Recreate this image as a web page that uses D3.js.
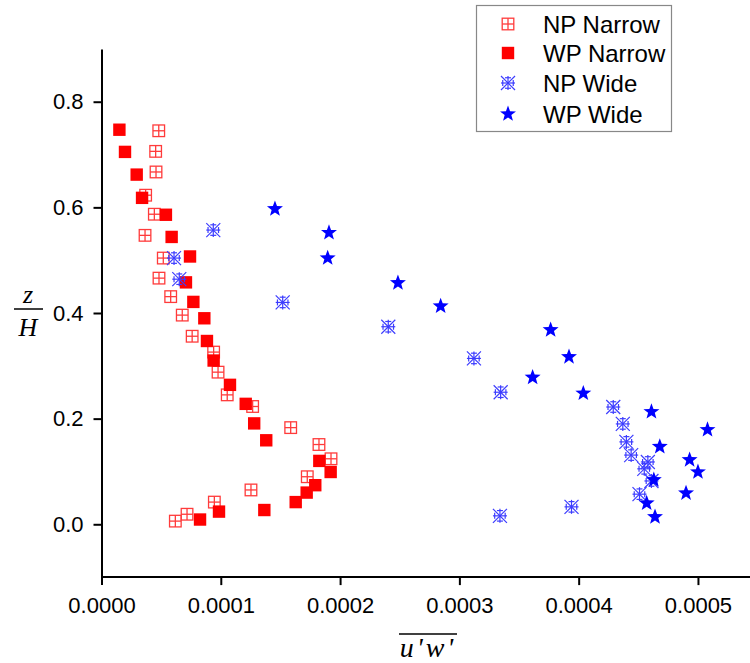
<!DOCTYPE html>
<html>
<head>
<meta charset="utf-8">
<script src="https://cdn.jsdelivr.net/npm/d3@7"></script>
<style>
  html, body { margin: 0; padding: 0; background: #fff; }
  svg { display: block; }
</style>
</head>
<body>
<svg id="chart" width="750" height="663"></svg>
<script>
// ---- data (x = u'w', y = z/H) ----
const seriesNames = ["NP Narrow", "WP Narrow", "NP Wide", "WP Wide"];
const xTicks = [0, 0.0001, 0.0002, 0.0003, 0.0004, 0.0005];
const yTicks = [0.0, 0.2, 0.4, 0.6, 0.8];

const npNarrow = [
  [0.0000480, 0.745], [0.0000454, 0.706], [0.0000457, 0.667], [0.0000370, 0.623],
  [0.0000443, 0.587], [0.0000365, 0.547], [0.0000518, 0.504], [0.0000482, 0.466],
  [0.0000580, 0.431], [0.0000677, 0.396], [0.0000760, 0.356], [0.0000940, 0.326],
  [0.0000977, 0.288], [0.0001054, 0.245], [0.0001267, 0.223], [0.0001586, 0.183],
  [0.0001823, 0.151], [0.0001924, 0.124], [0.0001725, 0.090], [0.0001253, 0.065],
  [0.0000946, 0.042], [0.0000717, 0.019], [0.0000619, 0.006]
];
const wpNarrow = [
  [0.0000150, 0.747], [0.0000197, 0.705], [0.0000295, 0.662], [0.0000340, 0.618],
  [0.0000540, 0.586], [0.0000588, 0.544], [0.0000742, 0.507], [0.0000708, 0.458],
  [0.0000770, 0.421], [0.0000862, 0.390], [0.0000884, 0.347], [0.0000940, 0.310],
  [0.0001077, 0.264], [0.0001209, 0.228], [0.0001280, 0.191], [0.0001381, 0.159],
  [0.0001826, 0.120], [0.0001921, 0.099], [0.0001792, 0.074], [0.0001720, 0.060],
  [0.0001628, 0.042], [0.0001365, 0.027], [0.0000985, 0.024], [0.0000826, 0.009]
];
const npWide = [
  [0.0000937, 0.557], [0.0000608, 0.504], [0.0000652, 0.464], [0.0001519, 0.420],
  [0.0002404, 0.374], [0.0003122, 0.314], [0.0003346, 0.250], [0.0004290, 0.222],
  [0.0004370, 0.190], [0.0004400, 0.156], [0.0004440, 0.131], [0.0004580, 0.118],
  [0.0004550, 0.105], [0.0004610, 0.082], [0.0004510, 0.057], [0.0003940, 0.033],
  [0.0003340, 0.016]
];
const wpWide = [
  [0.0001454, 0.597], [0.0001907, 0.552], [0.0001896, 0.504], [0.0002485, 0.457],
  [0.0002843, 0.413], [0.0003765, 0.368], [0.0003919, 0.317], [0.0003614, 0.278],
  [0.0004039, 0.248], [0.0004610, 0.213], [0.0005080, 0.179], [0.0004680, 0.147],
  [0.0004930, 0.122], [0.0005000, 0.099], [0.0004630, 0.084], [0.0004900, 0.059],
  [0.0004570, 0.040], [0.0004640, 0.014]
];

// ---- layout ----
const svg = d3.select("#chart");
const x = d3.scaleLinear().domain([0, 0.00055]).range([101.5, 757.6]);
const y = d3.scaleLinear().domain([-0.1, 0.9]).range([577.1, 48.9]);
const font = "'Liberation Sans', Arial, sans-serif";

// ---- marker drawers ----
const red = "#ff0000", redLight = "#ff3b3b", blue = "#0000ff", blueLight = "#3c3cff";

function drawNPNarrow(g, cx, cy) {
  const h = 5.8;
  g.append("rect").attr("x", cx - h).attr("y", cy - h).attr("width", 2 * h).attr("height", 2 * h)
    .attr("fill", "#fff").attr("fill-opacity", 0).attr("stroke", redLight).attr("stroke-width", 1.3);
  g.append("line").attr("x1", cx - h).attr("x2", cx + h).attr("y1", cy).attr("y2", cy)
    .attr("stroke", redLight).attr("stroke-width", 1.3);
  g.append("line").attr("x1", cx).attr("x2", cx).attr("y1", cy - h).attr("y2", cy + h)
    .attr("stroke", redLight).attr("stroke-width", 1.3);
}
function drawWPNarrow(g, cx, cy) {
  const h = 6.2;
  g.append("rect").attr("x", cx - h).attr("y", cy - h).attr("width", 2 * h).attr("height", 2 * h)
    .attr("fill", red);
}
function drawNPWide(g, cx, cy) {
  const r = 7;
  const segs = [
    [-r, -r, r, r], [-r, r, r, -r],
    [0, -r, 0, r], [-r, 0, r, 0],
    [-3, -r * 0.75, 3, -r * 0.75], [-3, r * 0.75, 3, r * 0.75],
    [-r * 0.75, -3, -r * 0.75, 3], [r * 0.75, -3, r * 0.75, 3]
  ];
  segs.forEach(s => g.append("line")
    .attr("x1", cx + s[0]).attr("y1", cy + s[1]).attr("x2", cx + s[2]).attr("y2", cy + s[3])
    .attr("stroke", blueLight).attr("stroke-width", 1.2));
}
function starPath(cx, cy, R, r) {
  const pts = [];
  for (let i = 0; i < 10; i++) {
    const a = -Math.PI / 2 + i * Math.PI / 5;
    const rad = i % 2 === 0 ? R : r;
    pts.push([cx + rad * Math.cos(a), cy + rad * Math.sin(a)]);
  }
  return "M" + pts.map(p => p.join(",")).join("L") + "Z";
}
function drawWPWide(g, cx, cy) {
  g.append("path").attr("d", starPath(cx, cy, 8.4, 3.5)).attr("fill", blue);
}
const drawers = [drawNPNarrow, drawWPNarrow, drawNPWide, drawWPWide];
const allSeries = [npNarrow, wpNarrow, npWide, wpWide];

// ---- axes ----
const xMinor = d3.range(0.00005, 0.00055, 0.0001);
const yMinor = [-0.1, 0.1, 0.3, 0.5, 0.7, 0.9];

const gx = svg.append("g").attr("transform", `translate(0,${y(-0.1)})`);
gx.call(d3.axisBottom(x).tickValues(xMinor).tickSize(4).tickSizeOuter(0).tickFormat(""));
gx.call(d3.axisBottom(x).tickValues(xTicks).tickSize(8).tickSizeOuter(0).tickFormat(d3.format(".4f")));
gx.selectAll(".domain").attr("d", `M${x(0)},0H750`).attr("stroke-width", 2).attr("stroke", "#000");
gx.selectAll(".tick line").attr("stroke-width", 2).attr("stroke", "#000");
gx.selectAll(".tick text").attr("y", 20).attr("font-size", 22).attr("font-family", font).attr("fill", "#000");

const gy = svg.append("g").attr("transform", `translate(${x(0)},0)`);
gy.call(d3.axisLeft(y).tickValues(yMinor).tickSize(4).tickSizeOuter(0).tickFormat(""));
gy.call(d3.axisLeft(y).tickValues(yTicks).tickSize(8).tickSizeOuter(0).tickFormat(d3.format(".1f")));
gy.selectAll(".domain").attr("stroke-width", 2).attr("stroke", "#000");
gy.selectAll(".tick line").attr("stroke-width", 2).attr("stroke", "#000");
gy.selectAll(".tick text").attr("x", -18).attr("font-size", 22).attr("font-family", font).attr("fill", "#000");

// ---- marks ----
allSeries.forEach((data, i) => {
  const g = svg.append("g").attr("class", "series-" + i);
  data.forEach(d => drawers[i](g, x(d[0]), y(d[1])));
});

// ---- axis titles ----
const serif = "'Liberation Serif', 'Times New Roman', serif";
svg.append("text").attr("x", 28).attr("y", 303).attr("text-anchor", "middle")
  .attr("font-family", serif).attr("font-style", "italic").attr("font-size", 26).text("z");
svg.append("line").attr("x1", 14).attr("x2", 43).attr("y1", 309).attr("y2", 309)
  .attr("stroke", "#000").attr("stroke-width", 1.5);
svg.append("text").attr("x", 28).attr("y", 336).attr("text-anchor", "middle")
  .attr("font-family", serif).attr("font-style", "italic").attr("font-size", 26).text("H");

svg.append("line").attr("x1", 399).attr("x2", 457).attr("y1", 634).attr("y2", 634)
  .attr("stroke", "#000").attr("stroke-width", 1.5);
svg.append("text").attr("x", 428).attr("y", 657).attr("text-anchor", "middle")
  .attr("font-family", serif).attr("font-style", "italic").attr("font-size", 28)
  .attr("letter-spacing", 3).text("u'w'");

// ---- legend ----
const lg = svg.append("g");
lg.append("rect").attr("x", 476.5).attr("y", 5.5).attr("width", 195).attr("height", 126)
  .attr("fill", "#fff").attr("stroke", "#888").attr("stroke-width", 1.2);
const legendY = [24, 53, 83, 114];
seriesNames.forEach((name, i) => {
  drawers[i](lg, 508, legendY[i]);
  lg.append("text").attr("x", 543).attr("y", legendY[i]).attr("dy", "0.36em")
    .attr("font-family", font).attr("font-size", 24).attr("fill", "#000").text(name);
});
</script>
</body>
</html>
